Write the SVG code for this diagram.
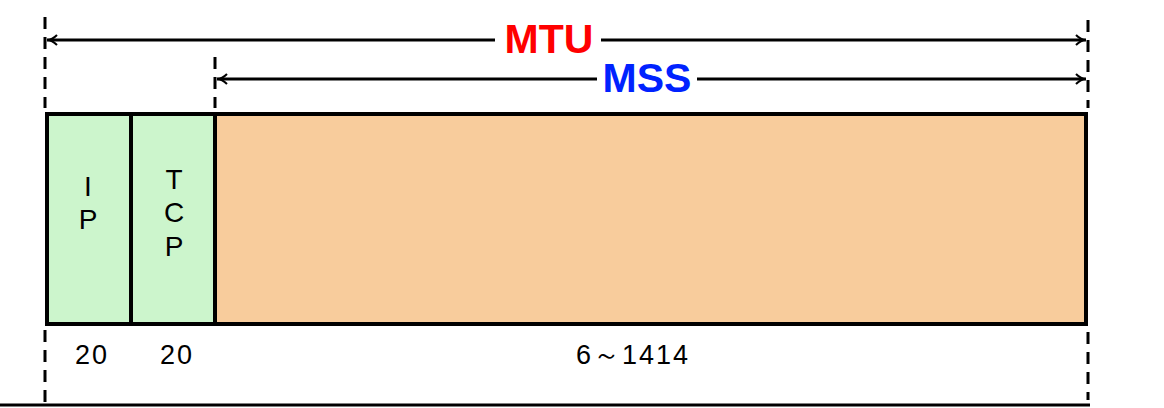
<svg xmlns="http://www.w3.org/2000/svg" width="1164" height="408" viewBox="0 0 1164 408">
<defs>
<style>
.dash{stroke:#000;stroke-width:3;stroke-dasharray:12,8;fill:none}
.dim{stroke:#000;stroke-width:3;fill:none}
.lbl{font-family:"Liberation Sans",Arial,sans-serif;font-size:28px;fill:#000;text-anchor:middle}
.num{font-family:"Liberation Sans",Arial,sans-serif;font-size:27px;fill:#000;text-anchor:middle;letter-spacing:2px}
.ttl{font-family:"Liberation Sans",Arial,sans-serif;font-size:41px;font-weight:bold;text-anchor:middle}
.box{stroke:#000;stroke-width:4}
</style>
<marker id="ah" viewBox="0 0 12 12" refX="11" refY="6" markerWidth="12" markerHeight="12" markerUnits="userSpaceOnUse" orient="auto-start-reverse">
<path d="M1,1 Q6,6 11,6 Q6,6 1,11" fill="none" stroke="#000" stroke-width="2"/>
</marker>
</defs>
<rect width="1164" height="408" fill="#fff"/>
<g id="connectors">
<line class="dash" x1="45" y1="17" x2="45" y2="108"/>
<line class="dash" x1="45" y1="330" x2="45" y2="404"/>
<line class="dash" x1="215" y1="57" x2="215" y2="108"/>
<line class="dash" x1="1088" y1="20" x2="1088" y2="108"/>
<line class="dash" x1="1088" y1="332" x2="1088" y2="400"/>
<line class="dim" x1="47" y1="40" x2="495" y2="40" marker-start="url(#ah)"/>
<line class="dim" x1="601" y1="40" x2="1086" y2="40" marker-end="url(#ah)"/>
<line class="dim" x1="217" y1="79" x2="597" y2="79" marker-start="url(#ah)"/>
<line class="dim" x1="697" y1="79" x2="1086" y2="79" marker-end="url(#ah)"/>
<line x1="0" y1="405" x2="1090" y2="405" stroke="#000" stroke-width="3"/>
</g>
<g id="mtu"><text class="ttl" x="549" y="53" fill="#ff0000">MTU</text></g>
<g id="mss"><text class="ttl" x="647" y="92" fill="#0022ff">MSS</text></g>
<g id="ip">
<rect class="box" x="47" y="114" width="84" height="210" fill="#ccf5cc"/>
<text class="lbl" x="88" y="196">I</text>
<text class="lbl" x="88" y="229">P</text>
</g>
<g id="tcp">
<rect class="box" x="131" y="114" width="84" height="210" fill="#ccf5cc"/>
<text class="lbl" x="174" y="189">T</text>
<text class="lbl" x="174" y="222">C</text>
<text class="lbl" x="174" y="256">P</text>
</g>
<g id="data">
<rect class="box" x="215" y="114" width="871" height="210" fill="#f8cc9c"/>
</g>
<g id="sizes">
<text class="num" x="92" y="364">20</text>
<text class="num" x="177" y="364">20</text>
<text class="num" x="633" y="364">6～1414</text>
</g>
</svg>
